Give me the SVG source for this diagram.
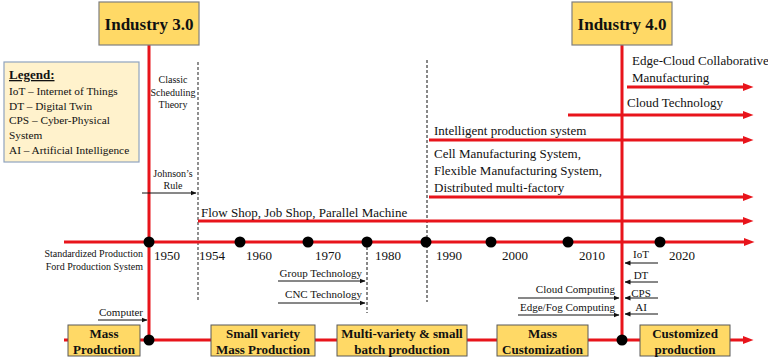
<svg xmlns="http://www.w3.org/2000/svg" width="768" height="362" viewBox="0 0 768 362">
<defs>
<marker id="ra" markerUnits="userSpaceOnUse" markerWidth="11" markerHeight="10" viewBox="0 0 11 10" refX="1" refY="5" orient="auto"><path d="M0,1 L10.5,5 L0,9 Z" fill="#E8141B"/></marker>
<marker id="ba" markerUnits="userSpaceOnUse" markerWidth="6" markerHeight="6" viewBox="0 0 6 6" refX="5.5" refY="3" orient="auto"><path d="M0,0.5 L6,3 L0,5.5 Z" fill="#111"/></marker>
<style>
.t{font-family:"Liberation Serif","Times New Roman",serif;fill:#111}
.hd{font-size:17px;font-weight:bold;text-anchor:middle}
.bx{font-size:13px;font-weight:bold;text-anchor:middle}
.s10{font-size:10px}
.s11{font-size:11px}
.lg{font-size:11.3px}
.s13{font-size:13px}
.m{text-anchor:middle}
.e{text-anchor:end}
.ind{fill:#FFD966;stroke:#7F7F7F;stroke-width:1.2}
.stage{fill:#FFD966;stroke:#595959;stroke-width:1}
.red{stroke:#E8141B;stroke-width:3;fill:none}
.redA{stroke:#E8141B;stroke-width:3;fill:none;marker-end:url(#ra)}
.blk{stroke:#111;stroke-width:1;fill:none;marker-end:url(#ba)}
.dash1{stroke:#555;stroke-width:1.3;stroke-dasharray:3,2;fill:none}
.dash2{stroke:#111;stroke-width:1;stroke-dasharray:3,2;fill:none}
.dot{fill:#000}
</style>
</defs>
<rect width="768" height="362" fill="#fff"/>

<g id="connectors">
<line class="dash1" x1="198" y1="62" x2="198" y2="302"/>
<line class="dash2" x1="427" y1="60" x2="427" y2="302"/>
<line class="dash2" x1="367" y1="242" x2="367" y2="313"/>
<line class="red" x1="149" y1="45" x2="149" y2="340"/>
<line class="red" x1="622" y1="45" x2="622" y2="340"/>
<line class="redA" x1="627" y1="87" x2="744" y2="87"/>
<line class="redA" x1="568" y1="115" x2="744" y2="115"/>
<line class="redA" x1="429" y1="140" x2="744" y2="140"/>
<line class="redA" x1="429" y1="197" x2="744" y2="197"/>
<line class="redA" x1="198" y1="221" x2="744" y2="221"/>
<line class="redA" x1="64" y1="242" x2="745" y2="242"/>
<line class="redA" x1="64" y1="340" x2="744" y2="340"/>
<line class="blk" x1="142" y1="193" x2="196" y2="193"/>
<line class="blk" x1="98" y1="320" x2="147" y2="320"/>
<line class="blk" x1="278" y1="281" x2="365" y2="281"/>
<line class="blk" x1="278" y1="303" x2="365" y2="303"/>
<line class="blk" x1="518" y1="298" x2="619" y2="298"/>
<line class="blk" x1="518" y1="315" x2="619" y2="315"/>
<line class="blk" x1="658" y1="263" x2="625" y2="263"/>
<line class="blk" x1="658" y1="282" x2="625" y2="282"/>
<line class="blk" x1="658" y1="298" x2="625" y2="298"/>
<line class="blk" x1="658" y1="314" x2="625" y2="314"/>
</g>

<g id="timeline-dots">
<circle class="dot" cx="149" cy="242" r="5.5"/>
<circle class="dot" cx="240" cy="242" r="5.5"/>
<circle class="dot" cx="308" cy="242" r="5.5"/>
<circle class="dot" cx="367" cy="242" r="5.5"/>
<circle class="dot" cx="426" cy="242" r="5.5"/>
<circle class="dot" cx="491" cy="242" r="5.5"/>
<circle class="dot" cx="568" cy="242" r="5.5"/>
<circle class="dot" cx="660" cy="242" r="5.5"/>
<circle class="dot" cx="149" cy="340" r="5.5"/>
<circle class="dot" cx="622" cy="340" r="5.5"/>
</g>

<g id="industry3">
<rect class="ind" x="99" y="2" width="100" height="43"/>
<text class="t hd" x="149" y="30">Industry 3.0</text>
</g>
<g id="industry4">
<rect class="ind" x="572" y="2" width="100" height="43"/>
<text class="t hd" x="622" y="30">Industry 4.0</text>
</g>

<g id="legend">
<rect x="4" y="62" width="135" height="100" fill="#FFF2CC" stroke="#8FA3BF" stroke-width="1.2"/>
<text class="t s13" x="9" y="79" font-weight="bold" text-decoration="underline">Legend:</text>
<text class="t lg" x="9" y="95">IoT – Internet of Things</text>
<text class="t lg" x="9" y="109.5">DT – Digital Twin</text>
<text class="t lg" x="9" y="124">CPS – Cyber-Physical</text>
<text class="t lg" x="9" y="139">System</text>
<text class="t lg" x="9" y="154">AI – Artificial Intelligence</text>
</g>

<g id="labels">
<text class="t s10 m" x="173" y="83">Classic</text>
<text class="t s10 m" x="173" y="96">Scheduling</text>
<text class="t s10 m" x="173" y="108">Theory</text>
<text class="t s10 m" x="173" y="177">Johnson’s</text>
<text class="t s10 m" x="173" y="189">Rule</text>
<text class="t s13" x="201" y="217">Flow Shop, Job Shop, Parallel Machine</text>
<text class="t s13" x="632" y="65">Edge-Cloud Collaborative</text>
<text class="t s13" x="632" y="82">Manufacturing</text>
<text class="t s13" x="627" y="107">Cloud Technology</text>
<text class="t s13" x="434" y="135">Intelligent production system</text>
<text class="t s13" x="434" y="158">Cell Manufacturing System,</text>
<text class="t s13" x="434" y="175">Flexible Manufacturing System,</text>
<text class="t s13" x="434" y="192">Distributed multi-factory</text>
<text class="t s10 e" x="143" y="257">Standardized Production</text>
<text class="t s10 e" x="143" y="270">Ford Production System</text>
<text class="t s13 m" x="167" y="260">1950</text>
<text class="t s13 m" x="212" y="260">1954</text>
<text class="t s13 m" x="259" y="260">1960</text>
<text class="t s13 m" x="328" y="260">1970</text>
<text class="t s13 m" x="388" y="260">1980</text>
<text class="t s13 m" x="449" y="260">1990</text>
<text class="t s13 m" x="515" y="260">2000</text>
<text class="t s13 m" x="592" y="260">2010</text>
<text class="t s13 m" x="682" y="260">2020</text>
<text class="t s11 e" x="362" y="277">Group Technology</text>
<text class="t s11 e" x="362" y="298">CNC Technology</text>
<text class="t s11 e" x="615" y="293">Cloud Computing</text>
<text class="t s11 e" x="615" y="311">Edge/Fog Computing</text>
<text class="t s11 m" x="641" y="258">IoT</text>
<text class="t s11 m" x="641" y="279">DT</text>
<text class="t s11 m" x="641" y="297">CPS</text>
<text class="t s11 m" x="641" y="311">AI</text>
<text class="t s11 m" x="121" y="316">Computer</text>
</g>

<g id="mass-production">
<rect class="stage" x="68" y="325" width="72" height="31"/>
<text class="t bx" x="104" y="338">Mass</text>
<text class="t bx" x="104" y="354">Production</text>
</g>
<g id="small-variety">
<rect class="stage" x="211" y="325" width="104" height="31"/>
<text class="t bx" x="263" y="338">Small variety</text>
<text class="t bx" x="263" y="354">Mass Production</text>
</g>
<g id="multi-variety">
<rect class="stage" x="337" y="325" width="130" height="31"/>
<text class="t bx" x="402" y="338">Multi-variety &amp; small</text>
<text class="t bx" x="402" y="354">batch production</text>
</g>
<g id="mass-customization">
<rect class="stage" x="497" y="325" width="91" height="31"/>
<text class="t bx" x="542.5" y="338">Mass</text>
<text class="t bx" x="542.5" y="354">Customization</text>
</g>
<g id="customized">
<rect class="stage" x="640" y="325" width="90" height="31"/>
<text class="t bx" x="685" y="338">Customized</text>
<text class="t bx" x="685" y="354">production</text>
</g>
</svg>
